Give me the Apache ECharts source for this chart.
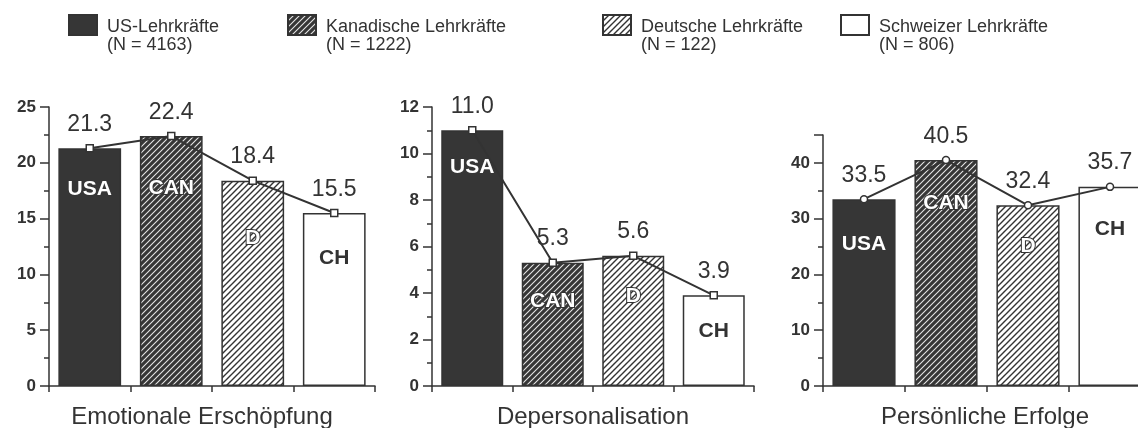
<!DOCTYPE html>
<html>
<head>
<meta charset="utf-8">
<script src="https://cdn.jsdelivr.net/npm/echarts@6/dist/echarts.min.js"></script>
<style>
html, body { margin: 0; padding: 0; background: #fff; }
#main { width: 1138px; height: 428px; }
</style>
</head>
<body>
<div id="main"></div>
<script>
// Daten
var categories = ['USA', 'CAN', 'D', 'CH'];
var legendNames = ['US-Lehrkräfte\n(N = 4163)', 'Kanadische Lehrkräfte\n(N = 1222)',
	'Deutsche Lehrkräfte\n(N = 122)', 'Schweizer Lehrkräfte\n(N = 806)'];
var panelTitles = ['Emotionale Erschöpfung', 'Depersonalisation', 'Persönliche Erfolge'];
var erschoepfung = [21.3, 22.4, 18.4, 15.5];
var depersonalisation = [11.0, 5.3, 5.6, 3.9];
var erfolge = [33.5, 40.5, 32.4, 35.7];
var panelValues = [erschoepfung, depersonalisation, erfolge];
var axisMax = [25, 12, 45];
var axisStep = [5, 2, 10];

// Layout
var grids = [
	{ left: 49, top: 107, width: 326, height: 279, outerBoundsMode: 'none' },
	{ left: 432, top: 107, width: 322, height: 279, outerBoundsMode: 'none' },
	{ left: 823, top: 135, width: 328, height: 251, outerBoundsMode: 'none' }
];
var legendLeft = [68, 287, 602, 840];
var markerShapes = ['rect', 'rect', 'circle'];
var titlePad = [[0, 20, 0, 0], [0, 0, 0, 0], [0, 4, 0, 0]];
// Verschiebung der Balkenbeschriftung (px nach unten)
var labelDrop = [[0, 12, 17, 5], [-4, -2, 0, -5], [5, 3, 0, 2]];
var FONT = '"Liberation Sans", Arial, Helvetica, sans-serif';
var INK = '#333';

function hatch(bg, fg, lw) {
	var c = document.createElement('canvas');
	c.width = 6; c.height = 6;
	var ctx = c.getContext('2d');
	ctx.fillStyle = bg;
	ctx.fillRect(0, 0, 6, 6);
	ctx.strokeStyle = fg;
	ctx.lineWidth = lw;
	ctx.beginPath();
	ctx.moveTo(0, 6); ctx.lineTo(6, 0);
	ctx.moveTo(-1, 1); ctx.lineTo(1, -1);
	ctx.moveTo(5, 7); ctx.lineTo(7, 5);
	ctx.stroke();
	return c;
}

var fills = [
	'#363636',
	{ image: hatch('#363636', '#e6e6e6', 1.1), repeat: 'repeat' },
	{ image: hatch('#ffffff', '#333333', 1.4), repeat: 'repeat' },
	'#ffffff'
];
var labelColors = ['#fff', '#fff', '#fff', INK];
var labelBorders = [0, 2, 2, 0];

var dom = document.getElementById('main');
var myChart = echarts.init(dom);

var xAxes = [], yAxes = [], series = [];
for (var k = 0; k < 3; k++) {
	xAxes.push({
		type: 'category',
		gridIndex: k,
		data: categories,
		name: panelTitles[k],
		nameLocation: 'middle',
		nameGap: 19,
		nameTextStyle: { fontFamily: FONT, fontSize: 24, color: INK, verticalAlign: 'top', padding: titlePad[k] },
		axisLine: { lineStyle: { color: INK, width: 1.5 } },
		axisTick: { show: true, interval: 0, length: 6, lineStyle: { color: INK, width: 1.5 } },
		axisLabel: { show: false }
	});
	yAxes.push({
		type: 'value',
		gridIndex: k,
		min: 0,
		max: axisMax[k],
		interval: axisStep[k],
		splitLine: { show: false },
		axisLine: { show: true, lineStyle: { color: INK, width: 1.5 } },
		axisTick: { show: true, length: 9, lineStyle: { color: INK, width: 1.5 } },
		minorTick: { show: true, splitNumber: 2, length: 5, lineStyle: { color: INK, width: 1.5 } },
		axisLabel: { margin: 13, fontFamily: FONT, fontSize: 17, fontWeight: 'bold', color: INK, showMaxLabel: k !== 2 }
	});
	for (var i = 0; i < 4; i++) {
		var vals = panelValues[k].map(function (v, j) {
			if (j !== i) return '-';
			return { value: v, label: { offset: [0, labelDrop[k][j]] } };
		});
		series.push({
			name: legendNames[i],
			type: 'bar',
			xAxisIndex: k,
			yAxisIndex: k,
			stack: 'p' + k,
			barWidth: '77%',
			data: vals,
			z: 2,
			itemStyle: { color: fills[i], borderColor: INK, borderWidth: 1.5 },
			label: {
				show: true,
				position: 'insideTop',
				distance: 30,
				formatter: categories[i],
				fontFamily: FONT,
				fontSize: 21,
				fontWeight: 'bold',
				color: labelColors[i],
				textBorderColor: INK,
				textBorderWidth: labelBorders[i]
			}
		});
	}
	series.push({
		name: 'Verlauf ' + k,
		type: 'line',
		xAxisIndex: k,
		yAxisIndex: k,
		data: panelValues[k],
		z: 5,
		symbol: markerShapes[k],
		symbolSize: 7,
		lineStyle: { color: INK, width: 2 },
		itemStyle: { color: '#fff', borderColor: INK, borderWidth: 1.5 },
		label: {
			show: true,
			position: 'top',
			distance: 8,
			formatter: function (p) { return p.value.toFixed(1); },
			fontFamily: FONT,
			fontSize: 23,
			color: INK
		}
	});
}

var legends = legendNames.map(function (n, i) {
	return {
		data: [n],
		left: legendLeft[i],
		top: -4,
		padding: 0,
		icon: 'rect',
		itemWidth: 28,
		itemHeight: 20,
		itemGap: 0,
		selectedMode: false,
		formatter: function (name) { return '{s| }\n' + name; },
		textStyle: {
			fontFamily: FONT, fontSize: 18, lineHeight: 18, color: INK, padding: [0, 0, 0, 5],
			rich: { s: { fontSize: 4, lineHeight: 22 } }
		}
	};
});

var option = {
	backgroundColor: '#fff',
	animation: false,
	legend: legends,
	grid: grids,
	xAxis: xAxes,
	yAxis: yAxes,
	series: series
};
myChart.setOption(option, true);
</script>
</body>
</html>
